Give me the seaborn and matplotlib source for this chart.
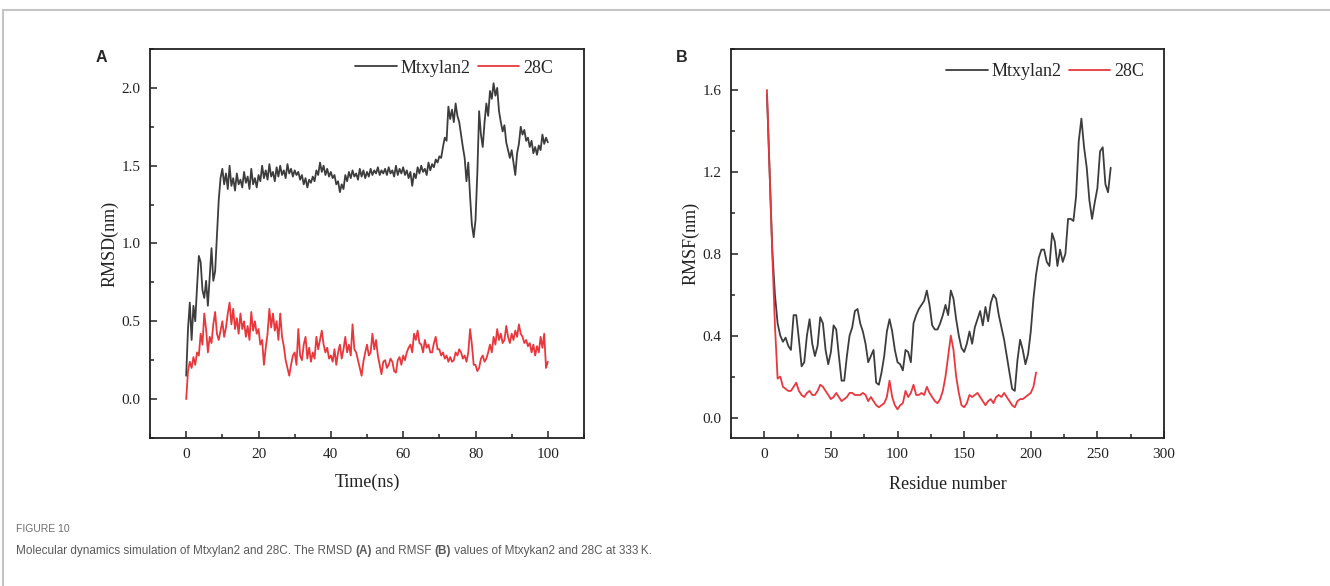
import numpy as np
import matplotlib
matplotlib.use("Agg")
import matplotlib.pyplot as plt
from matplotlib.ticker import MultipleLocator
from matplotlib.lines import Line2D
import seaborn as sns

# ---------------------------------------------------------------------------
# data
# ---------------------------------------------------------------------------

# (A) RMSD, 0-100 ns sampled every 0.5 ns
time_ns = np.arange(0, 100.5, 0.5)

rmsd_mtxylan2 = [
    0.15, 0.45, 0.62, 0.38, 0.60, 0.50, 0.72, 0.92, 0.88, 0.70,
    0.65, 0.76, 0.60, 0.78, 0.97, 0.76, 0.82, 1.05, 1.28, 1.42,
    1.48, 1.38, 1.45, 1.35, 1.50, 1.37, 1.42, 1.34, 1.45, 1.38,
    1.41, 1.36, 1.46, 1.39, 1.43, 1.35, 1.48, 1.38, 1.42, 1.36,
    1.44, 1.40, 1.50, 1.42, 1.47, 1.41, 1.51, 1.43, 1.46, 1.40,
    1.49, 1.43, 1.50, 1.44, 1.47, 1.42, 1.51, 1.45, 1.48, 1.43,
    1.47, 1.44, 1.46, 1.41, 1.44, 1.38, 1.42, 1.36, 1.41, 1.39,
    1.43, 1.40, 1.47, 1.44, 1.52, 1.46, 1.50, 1.44, 1.48, 1.43,
    1.46, 1.42, 1.44, 1.38, 1.40, 1.33, 1.38, 1.35, 1.44, 1.40,
    1.46, 1.42, 1.47, 1.43, 1.45, 1.41, 1.48, 1.43, 1.47, 1.42,
    1.46, 1.43, 1.48, 1.44, 1.47, 1.45, 1.49, 1.44, 1.47, 1.45,
    1.48, 1.44, 1.49, 1.45, 1.47, 1.43, 1.50, 1.44, 1.48, 1.45,
    1.49, 1.44, 1.47, 1.42, 1.46, 1.37, 1.45, 1.42, 1.49, 1.45,
    1.50, 1.46, 1.48, 1.44, 1.52, 1.47, 1.51, 1.49, 1.54, 1.52,
    1.56, 1.55, 1.62, 1.68, 1.66, 1.88, 1.80, 1.86, 1.78, 1.90,
    1.82, 1.78, 1.70, 1.62, 1.55, 1.40, 1.52, 1.30, 1.12, 1.04,
    1.15, 1.45, 1.85, 1.70, 1.62, 1.78, 1.90, 1.82, 1.98, 1.93,
    2.03, 1.95, 2.00, 1.85, 1.78, 1.72, 1.76, 1.65, 1.60, 1.55,
    1.60, 1.52, 1.44, 1.58, 1.64, 1.75, 1.70, 1.73, 1.66, 1.68,
    1.62, 1.66, 1.58, 1.62, 1.57, 1.63, 1.60, 1.70, 1.64, 1.68,
    1.65,
]

rmsd_28c = [
    0.00, 0.18, 0.24, 0.20, 0.27, 0.22, 0.30, 0.28, 0.42, 0.35,
    0.55, 0.45, 0.30, 0.40, 0.36, 0.48, 0.56, 0.42, 0.38, 0.44,
    0.50, 0.40, 0.46, 0.55, 0.62, 0.48, 0.58, 0.45, 0.52, 0.42,
    0.55, 0.45, 0.50, 0.40, 0.47, 0.38, 0.56, 0.44, 0.50, 0.42,
    0.45, 0.35, 0.38, 0.22, 0.33, 0.42, 0.58, 0.46, 0.55, 0.44,
    0.50, 0.38, 0.55, 0.40, 0.34, 0.25, 0.20, 0.15, 0.22, 0.28,
    0.30, 0.22, 0.45, 0.28, 0.25, 0.35, 0.40, 0.26, 0.33, 0.24,
    0.30, 0.26, 0.40, 0.32, 0.38, 0.44, 0.35, 0.30, 0.33, 0.26,
    0.28, 0.24, 0.32, 0.22, 0.30, 0.35, 0.26, 0.32, 0.40, 0.30,
    0.35, 0.28, 0.48, 0.32, 0.30, 0.25, 0.20, 0.15, 0.24, 0.30,
    0.35, 0.28, 0.30, 0.42, 0.32, 0.38, 0.28, 0.22, 0.16, 0.24,
    0.25, 0.20, 0.22, 0.26, 0.24, 0.18, 0.17, 0.25, 0.27, 0.22,
    0.28, 0.25, 0.30, 0.33, 0.35, 0.30, 0.42, 0.38, 0.44, 0.36,
    0.35, 0.30, 0.38, 0.33, 0.35, 0.30, 0.30, 0.36, 0.40, 0.32,
    0.32, 0.28, 0.30, 0.26, 0.28, 0.24, 0.27, 0.24, 0.25, 0.30,
    0.28, 0.32, 0.30, 0.26, 0.28, 0.24, 0.30, 0.45, 0.35, 0.22,
    0.22, 0.18, 0.20, 0.26, 0.28, 0.24, 0.26, 0.30, 0.35, 0.30,
    0.40, 0.35, 0.45, 0.38, 0.42, 0.36, 0.38, 0.47, 0.40, 0.36,
    0.42, 0.38, 0.44, 0.40, 0.48, 0.42, 0.40, 0.36, 0.38, 0.34,
    0.36, 0.30, 0.35, 0.28, 0.34, 0.30, 0.40, 0.33, 0.42, 0.20,
    0.24,
]

# (B) RMSF per residue, every second residue
residue_mtxylan2 = np.arange(2, 261, 2)
rmsf_mtxylan2 = [
    1.58, 1.20, 0.82, 0.60, 0.46, 0.40, 0.37, 0.39, 0.35, 0.33,
    0.50, 0.50, 0.38, 0.25, 0.27, 0.40, 0.48, 0.36, 0.30, 0.35,
    0.49, 0.46, 0.33, 0.26, 0.32, 0.45, 0.43, 0.30, 0.18, 0.18,
    0.30, 0.40, 0.44, 0.52, 0.53, 0.46, 0.42, 0.36, 0.27, 0.30,
    0.33, 0.17, 0.16, 0.22, 0.30, 0.42, 0.48, 0.42, 0.33, 0.27,
    0.26, 0.23, 0.33, 0.32, 0.27, 0.46, 0.50, 0.53, 0.55, 0.57,
    0.62, 0.55, 0.45, 0.43, 0.43, 0.46, 0.50, 0.55, 0.50, 0.62,
    0.58, 0.48, 0.40, 0.34, 0.32, 0.36, 0.42, 0.36, 0.44, 0.48,
    0.52, 0.45, 0.54, 0.47, 0.56, 0.60, 0.58, 0.50, 0.44, 0.38,
    0.30, 0.22, 0.14, 0.13, 0.28, 0.38, 0.33, 0.26, 0.31, 0.42,
    0.58, 0.70, 0.78, 0.82, 0.82, 0.76, 0.74, 0.90, 0.86, 0.74,
    0.82, 0.76, 0.80, 0.97, 0.97, 0.96, 1.08, 1.35, 1.46, 1.32,
    1.22, 1.06, 0.97, 1.05, 1.12, 1.30, 1.32, 1.14, 1.10, 1.22,
]

residue_28c = np.arange(2, 205, 2)
rmsf_28c = [
    1.60, 1.20, 0.80, 0.45, 0.19, 0.20, 0.15, 0.14, 0.13, 0.13,
    0.15, 0.17, 0.13, 0.11, 0.10, 0.12, 0.13, 0.11, 0.11, 0.13,
    0.16, 0.15, 0.13, 0.11, 0.09, 0.10, 0.12, 0.10, 0.08, 0.09,
    0.10, 0.12, 0.12, 0.11, 0.11, 0.11, 0.12, 0.11, 0.08, 0.10,
    0.08, 0.06, 0.05, 0.06, 0.07, 0.10, 0.18, 0.10, 0.06, 0.04,
    0.06, 0.07, 0.13, 0.10, 0.12, 0.16, 0.11, 0.11, 0.12, 0.11,
    0.15, 0.12, 0.10, 0.08, 0.07, 0.09, 0.13, 0.20, 0.30, 0.40,
    0.33, 0.20, 0.12, 0.06, 0.05, 0.07, 0.11, 0.10, 0.11, 0.12,
    0.10, 0.08, 0.06, 0.08, 0.09, 0.07, 0.10, 0.11, 0.10, 0.12,
    0.10, 0.08, 0.06, 0.05, 0.08, 0.09, 0.09, 0.10, 0.11, 0.12,
    0.15, 0.22,
]

DARK = "#3d3d3d"
RED = "#e8383d"
SERIF = ["Liberation Serif", "DejaVu Serif"]

# ---------------------------------------------------------------------------
# figure
# ---------------------------------------------------------------------------

sns.set_theme(style="ticks")
plt.rcParams["font.family"] = SERIF
plt.rcParams["axes.linewidth"] = 1.3

fig = plt.figure(figsize=(13.30, 5.86), dpi=100)
ax_a = fig.add_axes([0.1128, 0.2526, 0.3263, 0.6638])
ax_b = fig.add_axes([0.5496, 0.2526, 0.3256, 0.6638])


def style_axis(ax, xlim, ylim, xmaj, xmin, ymaj, ymin, yfmt):
    ax.set_xlim(*xlim)
    ax.set_ylim(*ylim)
    ax.xaxis.set_major_locator(MultipleLocator(xmaj))
    ax.xaxis.set_minor_locator(MultipleLocator(xmin))
    ax.yaxis.set_major_locator(MultipleLocator(ymaj))
    ax.yaxis.set_minor_locator(MultipleLocator(ymin))
    ax.yaxis.set_major_formatter(yfmt)
    ax.tick_params(which="both", direction="in", top=False, right=False,
                   color="#222222", width=1.1, labelsize=11, labelcolor="#222222")
    ax.tick_params(which="major", length=5, pad=7)
    ax.tick_params(which="minor", length=3)
    for sp in ax.spines.values():
        sp.set_visible(True)
        sp.set_color("#222222")
    ax.grid(False)


# (A) RMSD
sns.lineplot(x=time_ns, y=rmsd_mtxylan2, ax=ax_a, color=DARK, lw=1.3,
             label="Mtxylan2", estimator=None)
sns.lineplot(x=time_ns, y=rmsd_28c, ax=ax_a, color=RED, lw=1.3,
             label="28C", estimator=None)
style_axis(ax_a, (-10, 110), (-0.25, 2.25), 20, 10, 0.5, 0.25, "{x:.1f}")
ax_a.set_xlabel("Time(ns)", fontsize=13, labelpad=9, color="#222222")
ax_a.set_ylabel("RMSD(nm)", fontsize=13, labelpad=2, color="#222222")

# (B) RMSF
sns.lineplot(x=residue_mtxylan2, y=rmsf_mtxylan2, ax=ax_b, color=DARK, lw=1.3,
             label="Mtxylan2", estimator=None)
sns.lineplot(x=residue_28c, y=rmsf_28c, ax=ax_b, color=RED, lw=1.3,
             label="28C", estimator=None)
style_axis(ax_b, (-25, 300), (-0.1, 1.8), 50, 25, 0.4, 0.2, "{x:.1f}")
ax_b.set_xlabel("Residue number", fontsize=13, labelpad=11, color="#222222")
ax_b.set_ylabel("RMSF(nm)", fontsize=13, labelpad=2, color="#222222")

for ax, anchor in [(ax_a, (0.928, 0.951)), (ax_b, (0.953, 0.941))]:
    ax.legend(loc="center right", bbox_to_anchor=anchor, ncol=2, frameon=False,
              fontsize=13, handlelength=2.3, handletextpad=0.2,
              columnspacing=0.4, borderpad=0, borderaxespad=0)

# panel letters
fig.text(96 / 1330, 1 - 58 / 586, "A", fontsize=11.5, fontweight="bold",
         family="Liberation Sans", va="center", ha="left")
fig.text(676 / 1330, 1 - 58 / 586, "B", fontsize=11.5, fontweight="bold",
         family="Liberation Sans", va="center", ha="left")

# frame around the figure block
fig.add_artist(Line2D([3 / 1330, 1.0], [1 - 10 / 586, 1 - 10 / 586],
                      transform=fig.transFigure, color="#c4c4c4", lw=1.5))
fig.add_artist(Line2D([3 / 1330, 3 / 1330], [0.0, 1 - 10 / 586],
                      transform=fig.transFigure, color="#c4c4c4", lw=1.5))

# caption
CAP_FONT = ["Liberation Sans Narrow", "Liberation Sans", "DejaVu Sans"]
fig.text(16 / 1330, 1 - 529 / 586, "FIGURE 10", fontsize=7.5, color="#6e6e6e",
         family=CAP_FONT, va="center", ha="left")

caption_parts = [
    ("Molecular dynamics simulation of Mtxylan2 and 28C. The RMSD ", "normal"),
    ("(A)", "bold"),
    (" and RMSF ", "normal"),
    ("(B)", "bold"),
    (" values of Mtxykan2 and 28C at 333\u2009K.", "normal"),
]
renderer = fig.canvas.get_renderer()
x = 16 / 1330
for text, weight in caption_parts:
    t = fig.text(x, 1 - 551 / 586, text, fontsize=8.5, color="#5a5a5a",
                 fontweight=weight, family=CAP_FONT, va="center", ha="left")
    x += t.get_window_extent(renderer).width / fig.bbox.width

fig.savefig("out.png", dpi=100)
plt.close(fig)
